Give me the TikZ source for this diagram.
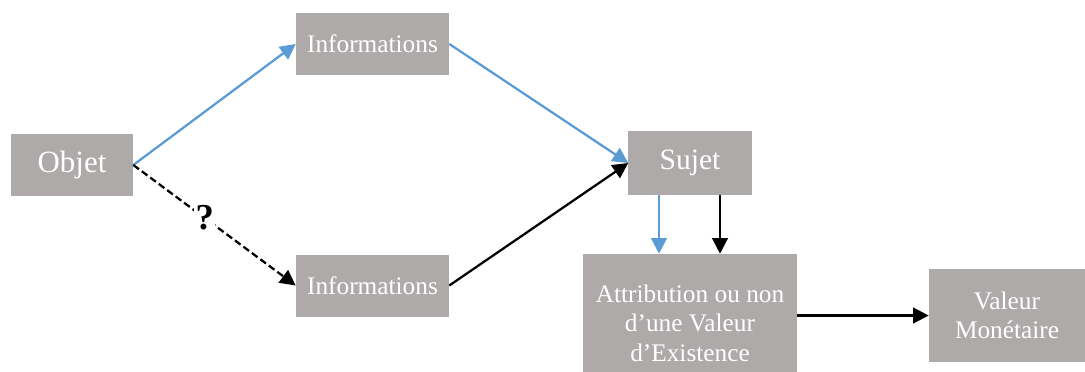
\documentclass[tikz,border=0pt]{standalone}
\usepackage{fontspec}
\setmainfont{Liberation Serif}
\usetikzlibrary{arrows.meta}

\definecolor{boxgray}{RGB}{174,170,170}
\definecolor{arrowblue}{RGB}{91,155,213}

\begin{document}
\begin{tikzpicture}[x=0.025cm, y=-0.025cm,
		box/.style={fill=boxgray, text=white, inner sep=2pt, align=center, font=\fontsize{18}{21}\selectfont},
		link/.style={line width=1.6pt, -{Triangle[length=11pt,width=11pt]}},
		bluelink/.style={link, arrowblue}]
		\useasboundingbox (0,0) rectangle (1085,371);
		
		\node[box, minimum width=3.05cm, minimum height=1.55cm, font=\fontsize{22}{24}\selectfont] (obj) at (72, 165) {Objet};
		\node[box, minimum width=3.825cm, minimum height=1.55cm] (infoA) at (372.5, 44) {Informations};
		\node[box, minimum width=3.825cm, minimum height=1.55cm] (infoB) at (372.5, 285.5) {Informations};
		\node[box, minimum width=3.075cm, minimum height=1.575cm, font=\fontsize{21}{24}\selectfont] (sujet) at (690, 163) {Sujet};
		\node[box, minimum width=5.35cm, minimum height=2.95cm] (attr) at (690, 313) {\rule{0pt}{27pt}Attribution ou non\\d'une Valeur\\d'Existence};
		\node[box, minimum width=3.9cm, minimum height=2.325cm] (valeur) at (1007, 315.5) {Valeur\\Monétaire};
		
		\draw[bluelink] (obj.east) to (infoA.west);
		\draw[bluelink] (infoA.east) to (sujet.west);
		\draw[link] (infoB.east) to (sujet.west);
		\draw[link, dash pattern=on 5pt off 2.5pt] (obj.east) to node[pos=0.44, fill=white, inner sep=1pt, font=\fontsize{26}{28}\selectfont\bfseries] (q) {?} (infoB.west);
		
		\draw[bluelink] ([xshift=-0.775cm]sujet.south) to ([xshift=-0.775cm]attr.north);
		\draw[link] ([xshift=0.75cm]sujet.south) to ([xshift=0.75cm]attr.north);
		\draw[link] (attr.east |- valeur.west) to (valeur.west);
\end{tikzpicture}
\end{document}
